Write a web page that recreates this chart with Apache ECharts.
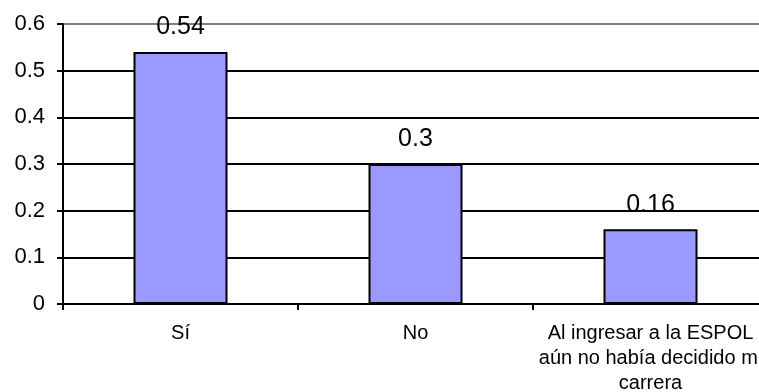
<!DOCTYPE html>
<html>
<head>
<meta charset="utf-8">
<script src="https://cdn.jsdelivr.net/npm/echarts@6/dist/echarts.min.js"></script>
<style>html,body{margin:0;padding:0;background:#fff;overflow:hidden;}#c{width:759px;height:392px;}</style>
</head>
<body>
<div id="c"></div>
<script>
var categories = ['Sí', 'No', 'Al ingresar a la ESPOL\naún no había decidido mi\ncarrera'];
var values = [0.54, 0.3, 0.16];
var yTicks = [0, 0.1, 0.2, 0.3, 0.4, 0.5, 0.6];

var chart = echarts.init(document.getElementById('c'));
chart.setOption({
  animation: false,
  grid: { left: 63, top: 24, width: 705, height: 280, containLabel: false, outerBoundsMode: 'none' },
  xAxis: {
    type: 'category',
    data: categories,
    axisLine: { lineStyle: { color: '#000', width: 2 } },
    axisTick: { show: true, length: 6, lineStyle: { color: '#000', width: 2 } },
    axisLabel: { color: '#000', fontFamily: 'Liberation Sans, Arial, sans-serif', fontSize: 20, lineHeight: 25, margin: 17, interval: 0 }
  },
  yAxis: {
    type: 'value',
    min: yTicks[0],
    max: yTicks[yTicks.length - 1],
    interval: 0.1,
    axisLine: { show: true, lineStyle: { color: '#000', width: 2 } },
    axisTick: { show: true, length: 6, lineStyle: { color: '#000', width: 2 } },
    axisLabel: { color: '#000', fontFamily: 'Liberation Sans, Arial, sans-serif', fontSize: 22, margin: 18,
      formatter: function (v) { return String(Math.round(v * 10) / 10); } },
    splitLine: { show: true, lineStyle: { color: ['#000', '#000', '#000', '#000', '#000', '#000', '#808080'], width: 2 } }
  },
  series: [{
    type: 'bar',
    data: values,
    barWidth: '40%',
    itemStyle: { color: '#9999FF', borderColor: '#000', borderWidth: 2 },
    label: { show: true, position: 'top', distance: 12, color: '#000', fontFamily: 'Liberation Sans, Arial, sans-serif', fontSize: 25 }
  }]
});
</script>
</body>
</html>
